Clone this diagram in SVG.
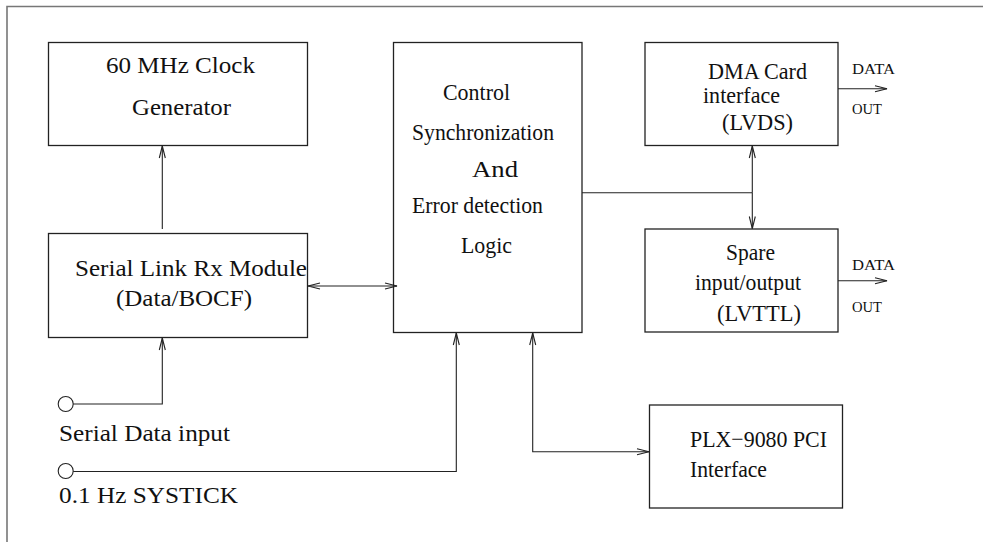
<svg xmlns="http://www.w3.org/2000/svg" width="983" height="542" viewBox="0 0 983 542">
<style>
.box{fill:none;stroke:#222;stroke-width:1.3}
.t{font-family:"Liberation Serif","Times New Roman",serif;font-size:24px;fill:#111}
.s{font-family:"Liberation Serif","Times New Roman",serif;font-size:15.5px;fill:#111}
.c{fill:none;stroke:#222;stroke-width:1.1}
</style>
<defs>
<marker id="ah" markerUnits="userSpaceOnUse" markerWidth="14" markerHeight="8" viewBox="0 0 14 8" refX="13" refY="4" orient="auto-start-reverse">
<path d="M1,1 L13,4 L1,7" fill="none" stroke="#222" stroke-width="1.1"/>
</marker>
</defs>
<rect width="983" height="542" fill="#fff"/>
<g id="frame"><path d="M7,542 V6.5 H983" fill="none" stroke="#777" stroke-width="1.6"/></g>

<g id="clock">
<rect class="box" x="48.5" y="42.5" width="259" height="103"/>
<text class="t" x="106" y="73" textLength="149" lengthAdjust="spacingAndGlyphs">60 MHz Clock</text>
<text class="t" x="132" y="115" textLength="99" lengthAdjust="spacingAndGlyphs">Generator</text>
</g>

<g id="serial">
<rect class="box" x="48.5" y="233.5" width="259" height="104"/>
<text class="t" x="75" y="276" textLength="232" lengthAdjust="spacingAndGlyphs">Serial Link Rx Module</text>
<text class="t" x="116" y="306" textLength="136" lengthAdjust="spacingAndGlyphs">(Data/BOCF)</text>
</g>

<g id="control">
<rect class="box" x="393.5" y="42.5" width="188.5" height="290"/>
<text class="t" x="443" y="100" textLength="67" lengthAdjust="spacingAndGlyphs">Control</text>
<text class="t" x="412" y="140" textLength="142" lengthAdjust="spacingAndGlyphs">Synchronization</text>
<text class="t" x="472" y="177" textLength="46" lengthAdjust="spacingAndGlyphs">And</text>
<text class="t" x="412" y="213" textLength="131" lengthAdjust="spacingAndGlyphs">Error detection</text>
<text class="t" x="461" y="253" textLength="51" lengthAdjust="spacingAndGlyphs">Logic</text>
</g>

<g id="dma">
<rect class="box" x="645" y="42.5" width="193" height="103"/>
<text class="t" x="708" y="79" textLength="99" lengthAdjust="spacingAndGlyphs">DMA Card</text>
<text class="t" x="703" y="103" textLength="77" lengthAdjust="spacingAndGlyphs">interface</text>
<text class="t" x="722" y="130" textLength="71" lengthAdjust="spacingAndGlyphs">(LVDS)</text>
</g>

<g id="spare">
<rect class="box" x="645" y="229" width="193" height="103"/>
<text class="t" x="726" y="260" textLength="49" lengthAdjust="spacingAndGlyphs">Spare</text>
<text class="t" x="695" y="290" textLength="106" lengthAdjust="spacingAndGlyphs">input/output</text>
<text class="t" x="717" y="321" textLength="84" lengthAdjust="spacingAndGlyphs">(LVTTL)</text>
</g>

<g id="plx">
<rect class="box" x="649.5" y="405" width="193" height="103"/>
<text class="t" x="690" y="447" textLength="137" lengthAdjust="spacingAndGlyphs">PLX−9080 PCI</text>
<text class="t" x="690" y="477" textLength="77" lengthAdjust="spacingAndGlyphs">Interface</text>
</g>

<g id="inputs">
<circle cx="65.7" cy="404" r="7.5" fill="#fff" stroke="#222" stroke-width="1.1"/>
<text class="t" x="59" y="441" textLength="171" lengthAdjust="spacingAndGlyphs">Serial Data input</text>
<circle cx="65.7" cy="471" r="7.5" fill="#fff" stroke="#222" stroke-width="1.1"/>
<text class="t" x="59" y="503" textLength="179" lengthAdjust="spacingAndGlyphs">0.1 Hz SYSTICK</text>
</g>

<g id="outputs">
<text class="s" x="852" y="74" textLength="43" lengthAdjust="spacingAndGlyphs">DATA</text>
<text class="s" x="852" y="114" textLength="30" lengthAdjust="spacingAndGlyphs">OUT</text>
<text class="s" x="852" y="270" textLength="43" lengthAdjust="spacingAndGlyphs">DATA</text>
<text class="s" x="852" y="312" textLength="30" lengthAdjust="spacingAndGlyphs">OUT</text>
</g>

<g id="connectors">
<path class="c" d="M162.3,229 V146" marker-end="url(#ah)"/>
<path class="c" d="M308,286 H397" marker-start="url(#ah)" marker-end="url(#ah)"/>
<path class="c" d="M73.2,404 H162.3 V338" marker-end="url(#ah)"/>
<path class="c" d="M73.2,471.5 H456.3 V333" marker-end="url(#ah)"/>
<path class="c" d="M532.7,333 V451.7 H649" marker-start="url(#ah)" marker-end="url(#ah)"/>
<path class="c" d="M582,192.7 H752.3"/>
<path class="c" d="M752.3,192.7 V146" marker-end="url(#ah)"/>
<path class="c" d="M752.3,192.7 V228.5" marker-end="url(#ah)"/>
<path class="c" d="M838,88.7 H887" marker-end="url(#ah)"/>
<path class="c" d="M838,280.7 H887" marker-end="url(#ah)"/>
</g>
</svg>
